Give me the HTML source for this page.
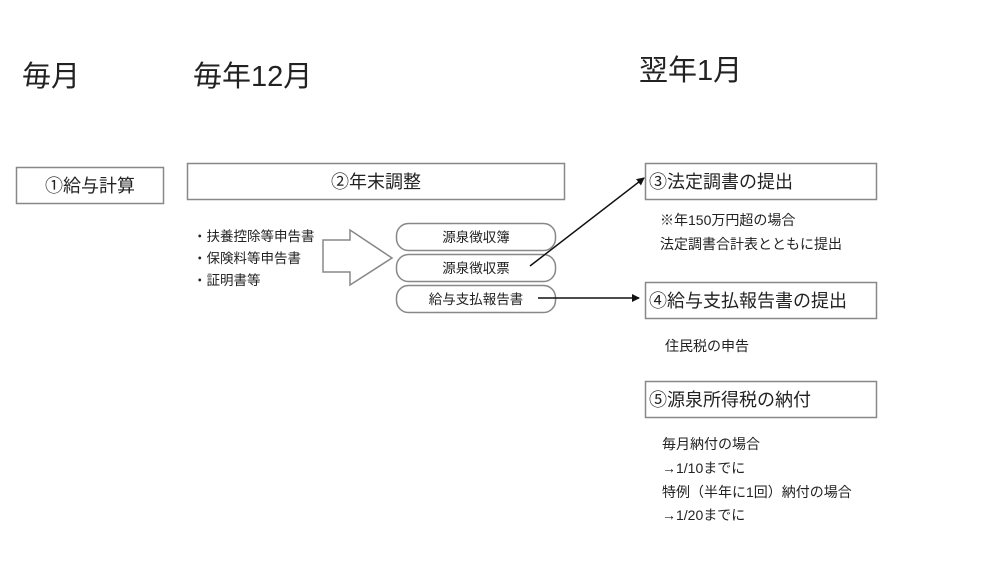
<!DOCTYPE html>
<html><head><meta charset="utf-8"><style>
html,body{margin:0;padding:0;background:#fff;width:988px;height:562px;overflow:hidden}
svg text{font-family:"Liberation Sans","Noto Sans CJK JP",sans-serif;fill:#222}
</style></head><body>
<svg width="988" height="562" viewBox="0 0 988 562" xmlns="http://www.w3.org/2000/svg">
<defs><marker id="ah" markerWidth="8" markerHeight="8" refX="7" refY="4" orient="auto" markerUnits="userSpaceOnUse"><path d="M0,0 L8,4 L0,8 z" fill="#111"/></marker></defs>
<g font-size="29">
<text x="22" y="86">毎月</text>
<text x="193" y="86">毎年12月</text>
<text x="639" y="80">翌年1月</text>
</g>
<g fill="#fff" stroke="#888" stroke-width="1.5">
<rect x="16.5" y="167.5" width="147" height="36"/>
<rect x="187.5" y="163.5" width="377" height="36"/>
<rect x="645.5" y="163.5" width="231" height="36"/>
<rect x="645.5" y="282.5" width="231" height="36"/>
<rect x="645.5" y="381.5" width="231" height="36"/>
<rect x="396.5" y="223.5" width="159" height="27" rx="12"/>
<rect x="396.5" y="254.5" width="159" height="27" rx="12"/>
<rect x="396.5" y="285.5" width="159" height="27" rx="12"/>
<path d="M323,240 L350,240 L350,230 L392,258 L350,285 L350,272 L323,272 Z"/>
</g>
<g font-size="18">
<text x="90" y="192" text-anchor="middle">①給与計算</text>
<text x="376" y="188" text-anchor="middle">②年末調整</text>
<text x="649" y="188">③法定調書の提出</text>
<text x="649" y="307">④給与支払報告書の提出</text>
<text x="649" y="406">⑤源泉所得税の納付</text>
</g>
<g font-size="13.5">
<text x="476" y="242" text-anchor="middle">源泉徴収簿</text>
<text x="476" y="273" text-anchor="middle">源泉徴収票</text>
<text x="476" y="304" text-anchor="middle">給与支払報告書</text>
<text x="193" y="241">・扶養控除等申告書</text>
<text x="193" y="263">・保険料等申告書</text>
<text x="193" y="285">・証明書等</text>
</g>
<g font-size="14">
<text x="660" y="225">※年150万円超の場合</text>
<text x="660" y="249">法定調書合計表とともに提出</text>
<text x="665" y="351">住民税の申告</text>
<text x="662" y="449">毎月納付の場合</text>
<text x="662" y="473">→1/10までに</text>
<text x="662" y="497">特例（半年に1回）納付の場合</text>
<text x="662" y="520">→1/20までに</text>
</g>
<line x1="530" y1="266" x2="644" y2="178" stroke="#111" stroke-width="1.5" marker-end="url(#ah)"/>
<line x1="538" y1="298" x2="639" y2="298" stroke="#111" stroke-width="1.5" marker-end="url(#ah)"/>
</svg>
</body></html>
